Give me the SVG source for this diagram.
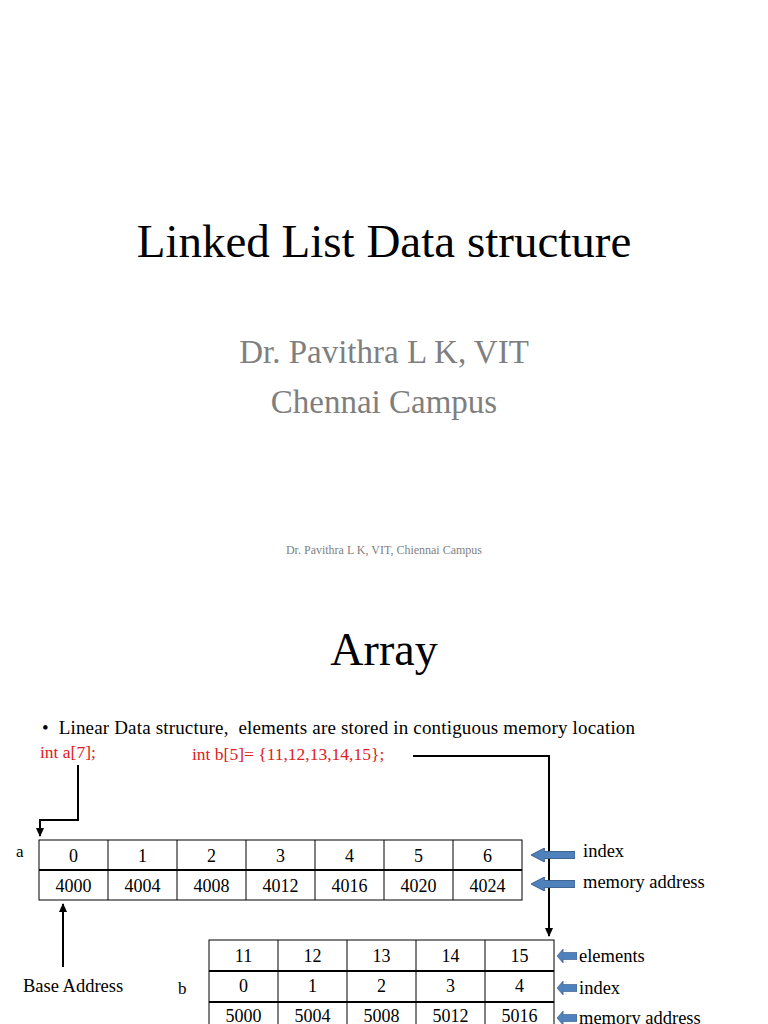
<svg xmlns="http://www.w3.org/2000/svg" width="768" height="1024" viewBox="0 0 768 1024">
<defs>
<style>
text{font-family:"Liberation Serif","Times New Roman",serif;fill:#000}
.c{text-anchor:middle;font-size:18px}
.g{fill:#7f7f7f}
.r{fill:#e02020;font-size:17.5px}
.l{font-size:18.5px}
.cell{fill:#fff;stroke:#000;stroke-width:1}
.ln{fill:none;stroke:#000;stroke-width:2}
.blue{fill:#4f81bd;stroke:#385d8a;stroke-width:1}
</style>
<marker id="ah" markerWidth="10" markerHeight="10" refX="8" refY="5" orient="auto" markerUnits="userSpaceOnUse"><path d="M0,1 L9,5 L0,9 z" fill="#000"/></marker>
<symbol id="barrow" viewBox="0 0 46 16" preserveAspectRatio="none"><path d="M0,8 L14,0 L14,4 L46,4 L46,12 L14,12 L14,16 z"/></symbol>
</defs>
<rect width="768" height="1024" fill="#fff"/>
<text x="384" y="257" text-anchor="middle" font-size="47">Linked List Data structure</text>
<text x="384" y="363" text-anchor="middle" font-size="33" class="g">Dr. Pavithra L K, VIT</text>
<text x="384" y="413" text-anchor="middle" font-size="33" class="g">Chennai Campus</text>
<text x="384" y="554" text-anchor="middle" font-size="12" class="g">Dr. Pavithra L K, VIT, Chiennai Campus</text>
<text x="384" y="665" text-anchor="middle" font-size="46">Array</text>
<text x="42" y="734" font-size="19" textLength="593" xml:space="preserve">•  Linear Data structure,  elements are stored in contiguous memory location</text>
<text x="40" y="758" class="r">int a[7];</text>
<text x="192" y="760" class="r">int b[5]= {11,12,13,14,15};</text>
<g id="connectors">
<path class="ln" d="M78,765 V820 H40 V836" marker-end="url(#ah)"/>
<path class="ln" d="M413,756 H549 V936" marker-end="url(#ah)"/>
<path class="ln" d="M63,967 V904" marker-end="url(#ah)"/>
</g>
<g id="array-a">
<text x="16" y="857" font-size="17">a</text>
<rect class="cell" x="39" y="840" width="483" height="60"/>
<path d="M108,840V900M177,840V900M246,840V900M315,840V900M384,840V900M453,840V900" stroke="#000"/>
<path d="M39,870H522" stroke="#000" stroke-width="2"/>
<text class="c" x="73.5" y="862">0</text><text class="c" x="142.5" y="862">1</text><text class="c" x="211.5" y="862">2</text><text class="c" x="280.5" y="862">3</text><text class="c" x="349.5" y="862">4</text><text class="c" x="418.5" y="862">5</text><text class="c" x="487.5" y="862">6</text>
<text class="c" x="73.5" y="892">4000</text><text class="c" x="142.5" y="892">4004</text><text class="c" x="211.5" y="892">4008</text><text class="c" x="280.5" y="892">4012</text><text class="c" x="349.5" y="892">4016</text><text class="c" x="418.5" y="892">4020</text><text class="c" x="487.5" y="892">4024</text>
<use href="#barrow" class="blue" x="531" y="848" width="44" height="14"/>
<use href="#barrow" class="blue" x="531" y="877" width="44" height="14"/>
<text x="583" y="857" class="l">index</text>
<text x="583" y="888" class="l">memory address</text>
</g>
<g id="array-b">
<text x="178" y="994" font-size="17">b</text>
<rect class="cell" x="209" y="940" width="345" height="95"/>
<path d="M278,940V1035M347,940V1035M416,940V1035M485,940V1035" stroke="#000"/>
<path d="M209,971H554M209,1002H554" stroke="#000" stroke-width="2"/>
<text class="c" x="243.5" y="962">11</text><text class="c" x="312.5" y="962">12</text><text class="c" x="381.5" y="962">13</text><text class="c" x="450.5" y="962">14</text><text class="c" x="519.5" y="962">15</text>
<text class="c" x="243.5" y="992">0</text><text class="c" x="312.5" y="992">1</text><text class="c" x="381.5" y="992">2</text><text class="c" x="450.5" y="992">3</text><text class="c" x="519.5" y="992">4</text>
<text class="c" x="243.5" y="1022">5000</text><text class="c" x="312.5" y="1022">5004</text><text class="c" x="381.5" y="1022">5008</text><text class="c" x="450.5" y="1022">5012</text><text class="c" x="519.5" y="1022">5016</text>
<use href="#barrow" class="blue" x="557" y="949" width="20" height="14"/>
<use href="#barrow" class="blue" x="557" y="981" width="20" height="14"/>
<use href="#barrow" class="blue" x="557" y="1011" width="20" height="14"/>
<text x="579" y="962" class="l">elements</text>
<text x="579" y="994" class="l">index</text>
<text x="579" y="1024" class="l">memory address</text>
</g>
<text x="23" y="992" class="l">Base Address</text>
</svg>
